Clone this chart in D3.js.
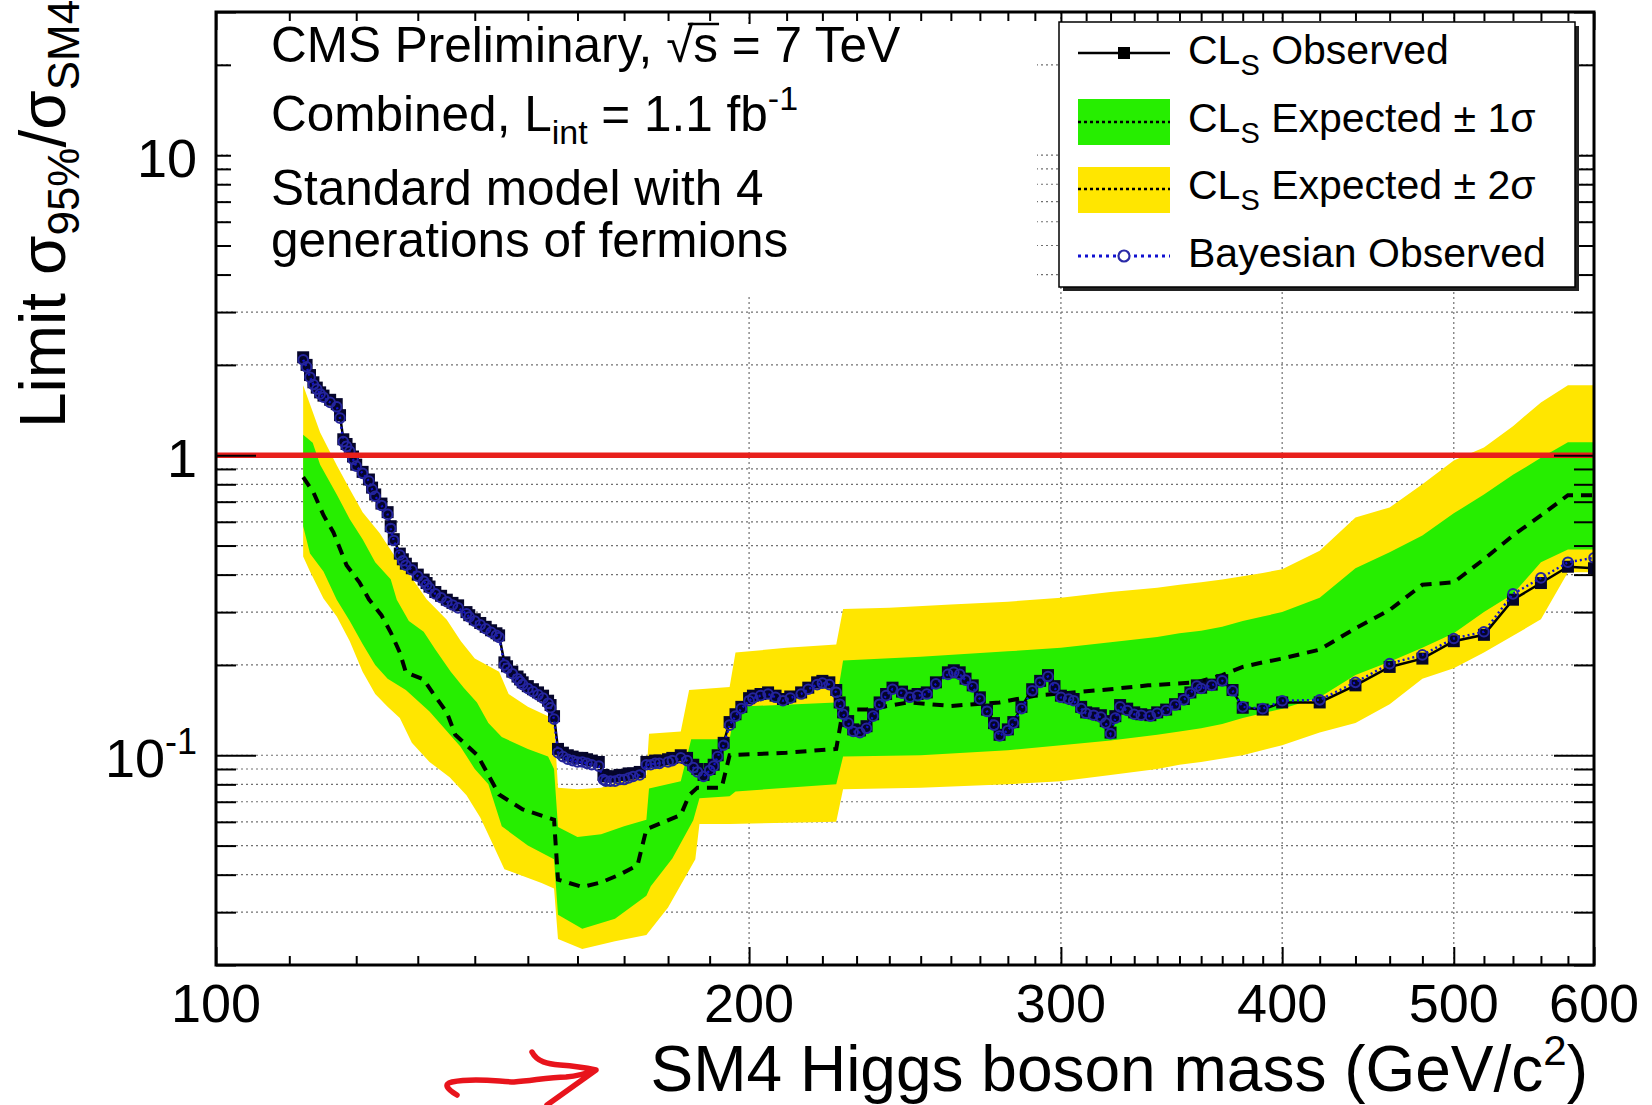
<!DOCTYPE html>
<html>
<head>
<meta charset="utf-8">
<script src="https://cdn.jsdelivr.net/npm/d3@7"></script>
<style>
  html, body { margin: 0; padding: 0; background: #fff; }
  svg { display: block; font-family: "Liberation Sans", Arial, Helvetica, sans-serif; }
</style>
</head>
<body>
<svg id="chart" width="1652" height="1105"></svg>
<script>
// ---- Limits on sigma/sigma_SM4 vs Higgs mass, [mass (GeV), ratio] ----
const clsObserved = [
  [112,2.12],[112.5,2.0],[113,1.85],[113.5,1.75],[114,1.68],[114.5,1.62],[115,1.58],[116,1.53],
  [117,1.48],[117.5,1.36],[118,1.13],[118.5,1.09],[119,1.05],[119.5,0.99],[120,0.93],[121,0.88],
  [122,0.83],[122.5,0.78],[123,0.74],[124,0.69],[125,0.646],[125.5,0.58],[126,0.525],[127,0.47],
  [127.5,0.45],[128,0.435],[129,0.42],[130,0.40],[131,0.385],[131.5,0.375],[132,0.365],[133,0.35],
  [134,0.34],[135,0.33],[136,0.322],[137,0.316],[138.5,0.30],[139,0.293],[140,0.284],[141,0.276],
  [142,0.268],[143,0.261],[144,0.255],[144.5,0.251],[145.5,0.204],[146,0.198],[147,0.19],[148,0.183],
  [148.5,0.179],[149,0.175],[150,0.17],[151,0.166],[152,0.162],[153,0.158],[154,0.152],[154.5,0.147],
  [155.2,0.135],[156,0.105],[157,0.102],[158,0.100],[159,0.099],[160,0.098],[161,0.098],[162,0.097],
  [163,0.096],[164.5,0.095],[165.5,0.086],[166,0.085],[167,0.085],[168,0.085],[169,0.086],[170,0.086],
  [171,0.087],[172,0.087],[173.5,0.088],[175,0.095],[176,0.095],[177,0.096],[178,0.096],[180,0.097],
  [181,0.098],[183,0.100],[184.5,0.098],[186,0.093],[187,0.090],[188.5,0.086],[190,0.090],[191,0.093],
  [192,0.100],[193.5,0.110],[195,0.129],[196.5,0.137],[198,0.145],[200,0.155],[201,0.158],[203,0.160],
  [205,0.162],[207,0.158],[209,0.154],[211,0.157],[214,0.162],[216,0.168],[218.5,0.175],[220,0.177],
  [222,0.175],[224,0.165],[225,0.150],[226,0.139],[227.5,0.130],[229,0.122],[231,0.121],[233,0.125],
  [235,0.137],[237,0.150],[239,0.160],[241,0.168],[244,0.163],[246.5,0.158],[249,0.160],[252,0.162],
  [255,0.175],[259,0.189],[261,0.192],[263,0.189],[265,0.180],[267.5,0.171],[270,0.156],[272.5,0.142],
  [275,0.128],[277,0.117],[280,0.122],[282,0.129],[285,0.145],[289,0.166],[292,0.177],[295,0.185],
  [297.5,0.170],[300,0.158],[303,0.156],[305,0.154],[308,0.145],[310,0.139],[313,0.138],[316,0.136],
  [318,0.130],[320,0.119],[322,0.135],[324,0.147],[327,0.143],[330,0.139],[333,0.137],[337,0.136],
  [340,0.139],[344,0.142],[348,0.148],[352,0.154],[355,0.162],[358,0.171],[360,0.168],[365,0.172],
  [370,0.178],[375,0.165],[380,0.144],[390,0.142],[400,0.150],[420,0.150],[440,0.171],[460,0.197],
  [480,0.210],[500,0.240],[520,0.252],[540,0.330],[560,0.375],[580,0.425],[600,0.420]
];

const bayesObserved = [
  [112,2.08],[112.5,1.97],[113,1.82],[113.5,1.72],[114,1.66],[114.5,1.60],[115,1.56],[116,1.50],
  [117,1.45],[117.5,1.33],[118,1.11],[118.5,1.07],[119,1.03],[119.5,0.97],[120,0.92],[121,0.87],
  [122,0.82],[122.5,0.77],[123,0.73],[124,0.68],[125,0.635],[125.5,0.57],[126,0.52],[127,0.465],
  [127.5,0.445],[128,0.43],[129,0.415],[130,0.395],[131,0.38],[131.5,0.37],[132,0.36],[133,0.345],
  [134,0.335],[135,0.325],[136,0.317],[137,0.31],[138.5,0.296],[139,0.289],[140,0.28],[141,0.272],
  [142,0.264],[143,0.257],[144,0.251],[144.5,0.247],[145.5,0.200],[146,0.195],[147,0.187],[148,0.18],
  [148.5,0.176],[149,0.172],[150,0.167],[151,0.163],[152,0.159],[153,0.155],[154,0.149],[154.5,0.144],
  [155.2,0.132],[156,0.102],[157,0.099],[158,0.097],[159,0.096],[160,0.095],[161,0.095],[162,0.094],
  [163,0.093],[164.5,0.092],[165.5,0.083],[166,0.082],[167,0.082],[168,0.082],[169,0.083],[170,0.083],
  [171,0.084],[172,0.085],[173.5,0.086],[175,0.093],[176,0.093],[177,0.094],[178,0.094],[180,0.095],
  [181,0.096],[183,0.098],[184.5,0.096],[186,0.091],[187,0.088],[188.5,0.085],[190,0.089],[191,0.092],
  [192,0.099],[193.5,0.108],[195,0.126],[196.5,0.135],[198,0.143],[200,0.152],[201,0.155],[203,0.158],
  [205,0.160],[207,0.156],[209,0.152],[211,0.155],[214,0.160],[216,0.166],[218.5,0.172],[220,0.174],
  [222,0.172],[224,0.162],[225,0.148],[226,0.137],[227.5,0.128],[229,0.120],[231,0.119],[233,0.123],
  [235,0.135],[237,0.148],[239,0.158],[241,0.166],[244,0.161],[246.5,0.156],[249,0.158],[252,0.160],
  [255,0.173],[259,0.186],[261,0.189],[263,0.186],[265,0.178],[267.5,0.169],[270,0.154],[272.5,0.140],
  [275,0.126],[277,0.116],[280,0.121],[282,0.128],[285,0.143],[289,0.164],[292,0.175],[295,0.183],
  [297.5,0.168],[300,0.156],[303,0.154],[305,0.152],[308,0.143],[310,0.138],[313,0.136],[316,0.134],
  [318,0.128],[320,0.118],[322,0.133],[324,0.145],[327,0.141],[330,0.137],[333,0.136],[337,0.135],
  [340,0.138],[344,0.141],[348,0.147],[352,0.153],[355,0.161],[358,0.170],[360,0.167],[365,0.171],
  [370,0.177],[375,0.164],[380,0.145],[390,0.143],[400,0.152],[420,0.153],[440,0.175],[460,0.202],
  [480,0.216],[500,0.245],[520,0.258],[540,0.345],[560,0.390],[580,0.440],[600,0.455]
];

const expectedMedian = [
  [112,0.845],[113.5,0.753],[115,0.631],[116.5,0.553],[118.5,0.43],[120.5,0.377],[122,0.331],[124,0.293],
  [125.5,0.257],[127,0.22],[128,0.189],[131,0.179],[132.5,0.162],[135,0.139],[136.5,0.117],[140.5,0.100],
  [144.5,0.074],[149,0.066],[155.2,0.061],[156,0.0385],[161,0.0364],[165,0.0377],[169,0.040],[173,0.043],
  [175,0.0567],[183,0.0632],[185,0.0736],[187,0.078],[193,0.078],[195,0.100],[210,0.102],[224,0.105],
  [226,0.142],[233,0.142],[246,0.150],[260,0.146],[268,0.148],[277,0.150],[290,0.158],[305,0.162],
  [320,0.166],[336,0.171],[358,0.175],[370,0.185],[380,0.197],[390,0.204],[400,0.210],[420,0.225],
  [440,0.265],[460,0.305],[480,0.370],[500,0.377],[520,0.45],[540,0.54],[560,0.63],[580,0.736],[600,0.736]
];

const band2Upper = [
  [112,1.71],[114.5,1.19],[117,0.926],[119,0.77],[121,0.646],[123.7,0.55],[126.5,0.45],[129,0.39],
  [131.5,0.331],[135,0.283],[137.5,0.24],[140,0.21],[144.5,0.19],[146.3,0.16],[150,0.145],[154,0.135],
  [155.2,0.13],[156,0.078],[160,0.077],[165,0.078],[170,0.083],[175,0.086],[175.6,0.118],[183,0.120],
  [185,0.165],[195,0.169],[196.5,0.22],[210,0.228],[224,0.234],[226,0.307],[240,0.31],[260,0.318],
  [280,0.325],[300,0.335],[320,0.35],[340,0.362],[350,0.37],[360,0.377],[370,0.385],[380,0.395],
  [390,0.405],[400,0.417],[420,0.48],[440,0.62],[460,0.67],[480,0.80],[500,0.96],[520,1.06],
  [540,1.25],[560,1.5],[580,1.71],[600,1.71]
];

const band1Upper = [
  [112,1.17],[113.4,1.1],[114.5,0.93],[117,0.74],[119,0.612],[121,0.525],[123,0.44],[125.5,0.386],
  [126.5,0.33],[128.5,0.28],[131,0.258],[133,0.225],[135.7,0.19],[138,0.168],[140.4,0.15],[142.5,0.128],
  [145,0.115],[150,0.105],[154,0.099],[155.2,0.09],[156,0.0577],[160,0.0534],[165,0.0545],[170,0.058],
  [175,0.061],[175.6,0.0775],[183,0.082],[185.5,0.113],[195,0.113],[196.5,0.145],[224,0.150],[226,0.207],
  [250,0.213],[280,0.222],[300,0.228],[320,0.238],[340,0.248],[350,0.255],[360,0.26],[370,0.268],
  [380,0.28],[390,0.29],[400,0.30],[420,0.335],[440,0.42],[460,0.475],[480,0.54],[500,0.64],
  [520,0.74],[540,0.86],[560,0.98],[580,1.105],[600,1.105]
];

const band1Lower = [
  [112,0.58],[113,0.47],[115,0.41],[117,0.33],[119,0.28],[121,0.235],[123,0.2],[125,0.18],
  [128,0.165],[132,0.14],[137.4,0.107],[140,0.09],[142.5,0.08],[145,0.058],[150,0.05],[155.2,0.045],
  [156,0.0294],[161,0.0264],[168,0.0285],[175,0.034],[176,0.0366],[181,0.0453],[186,0.0607],[187.5,0.0719],
  [195,0.073],[196.5,0.0758],[224,0.080],[226,0.099],[250,0.100],[280,0.104],[300,0.108],[320,0.112],
  [340,0.117],[350,0.12],[360,0.123],[370,0.127],[380,0.133],[390,0.138],[400,0.143],[420,0.156],
  [440,0.185],[460,0.205],[480,0.228],[500,0.255],[520,0.30],[540,0.345],[560,0.44],[580,0.485],[600,0.485]
];

const band2Lower = [
  [112,0.46],[113,0.41],[115,0.333],[117,0.29],[119,0.24],[121,0.19],[123,0.16],[125,0.145],
  [127,0.133],[129,0.11],[132,0.095],[135.5,0.0844],[138.5,0.0736],[141,0.062],[143,0.052],[145.5,0.0417],
  [152.7,0.0375],[155.2,0.036],[156,0.0244],[161,0.0226],[168,0.024],[175,0.0252],[180,0.0311],[186.5,0.045],
  [187.5,0.059],[195,0.059],[224,0.060],[226,0.077],[250,0.078],[280,0.080],[300,0.082],[320,0.086],
  [340,0.090],[350,0.093],[360,0.095],[380,0.100],[400,0.108],[420,0.119],[440,0.128],[460,0.148],
  [480,0.18],[500,0.195],[520,0.22],[540,0.25],[560,0.284],[580,0.407],[600,0.407]
];

const smReference = 1;

// axis tick values and labels
const xLabelValues = [100, 200, 300, 400, 500, 600];
const xLabelText   = ["100", "200", "300", "400", "500", "600"];
const xGridValues  = [200, 300, 400, 500];
const yMajorValues = [0.1, 1, 10];
const yLabels      = [{v: 0.1, base: "10", sup: "-1"}, {v: 1, base: "1", sup: ""}, {v: 10, base: "10", sup: ""}];

// ---- layout ----
const svg = d3.select("#chart");
const frame = {left: 216, right: 1594, top: 12, bottom: 965};

const x = d3.scaleLog().domain([100, 600]).range([frame.left, frame.right]);
const y = d3.scaleLog().domain([0.02, 30]).range([frame.bottom, frame.top]);

// minor tick positions in the ROOT style (10 GeV steps, then 20 GeV above 400)
const xMinorValues = d3.range(110, 400, 10).filter(v => v % 100 !== 0)
  .concat(d3.range(420, 600, 20).filter(v => v % 100 !== 0));
const yMinorValues = [];
[0.01, 0.1, 1, 10].forEach(dec => {
  for (let k = 2; k <= 9; k++) {
    const v = +(k * dec).toPrecision(3);
    if (v >= 0.02 && v <= 30) yMinorValues.push(v);
  }
});

svg.append("rect").attr("width", 1652).attr("height", 1105).attr("fill", "#fff");

svg.append("defs").append("clipPath").attr("id", "plotClip")
  .append("rect")
  .attr("x", frame.left).attr("y", frame.top)
  .attr("width", frame.right - frame.left).attr("height", frame.bottom - frame.top);

// ---- grid ----
const grid = svg.append("g").attr("stroke", "#707070").attr("stroke-width", 1.2)
  .attr("stroke-dasharray", "2,3");
grid.selectAll("line.h").data(yMajorValues.concat(yMinorValues)).join("line")
  .attr("x1", frame.left).attr("x2", frame.right)
  .attr("y1", d => y(d)).attr("y2", d => y(d));
grid.selectAll("line.v").data(xGridValues).join("line")
  .attr("y1", frame.top).attr("y2", frame.bottom)
  .attr("x1", d => x(d)).attr("x2", d => x(d));

// ---- bands ----
const plot = svg.append("g").attr("clip-path", "url(#plotClip)");
const lineGen = d3.line().x(d => x(d[0])).y(d => y(d[1]));

function band(upper, lower, color) {
  const pts = upper.concat(lower.slice().reverse());
  plot.append("path").attr("d", lineGen(pts) + "Z").attr("fill", color).attr("stroke", "none");
}
band(band2Upper, band2Lower, "#ffe600");
band(band1Upper, band1Lower, "#26ee00");

// expected median
plot.append("path").attr("d", lineGen(expectedMedian))
  .attr("fill", "none").attr("stroke", "#000").attr("stroke-width", 4)
  .attr("stroke-dasharray", "11,8");

// CLs observed: line + filled squares
plot.append("path").attr("d", lineGen(clsObserved))
  .attr("fill", "none").attr("stroke", "#000").attr("stroke-width", 2.5);
plot.append("g").selectAll("rect").data(clsObserved).join("rect")
  .attr("x", d => x(d[0]) - 6).attr("y", d => y(d[1]) - 6)
  .attr("width", 12).attr("height", 12).attr("fill", "#05052a");

// Bayesian observed: dotted blue line + open circles
plot.append("path").attr("d", lineGen(bayesObserved))
  .attr("fill", "none").attr("stroke", "#1010d0").attr("stroke-width", 2.4)
  .attr("stroke-dasharray", "2,3");
plot.append("g").selectAll("circle").data(bayesObserved).join("circle")
  .attr("cx", d => x(d[0])).attr("cy", d => y(d[1])).attr("r", 4.8)
  .attr("fill", "none").attr("stroke", "#24249c").attr("stroke-width", 2);

// SM4 reference at 1
svg.append("line")
  .attr("x1", frame.left).attr("x2", frame.right)
  .attr("y1", y(smReference)).attr("y2", y(smReference))
  .attr("stroke", "#e8201c").attr("stroke-width", 5.5);

// ---- tick marks (inward on all four sides) ----
function ticks(axis, values, size, transform) {
  const g = svg.append("g").attr("transform", transform)
    .call(axis.tickValues(values).tickSize(size).tickFormat(""));
  g.select(".domain").remove();
  g.selectAll("line").attr("stroke", "#000").attr("stroke-width", 2);
}
ticks(d3.axisBottom(x), xMinorValues, -9, `translate(0,${frame.bottom})`);
ticks(d3.axisBottom(x), xLabelValues, -18, `translate(0,${frame.bottom})`);
ticks(d3.axisTop(x), xMinorValues, -9, `translate(0,${frame.top})`);
ticks(d3.axisTop(x), xLabelValues, -18, `translate(0,${frame.top})`);
ticks(d3.axisLeft(y), yMinorValues, -20, `translate(${frame.left},0)`);
ticks(d3.axisLeft(y), yMajorValues, -40, `translate(${frame.left},0)`);
ticks(d3.axisRight(y), yMinorValues, -20, `translate(${frame.right},0)`);
ticks(d3.axisRight(y), yMajorValues, -40, `translate(${frame.right},0)`);

// ---- text panel (white box) ----
svg.append("rect").attr("x", 231).attr("y", 24).attr("width", 806).attr("height", 270)
  .attr("fill", "#fff");

const infoFs = 49.5;
const info = svg.append("g").attr("font-size", infoFs).attr("fill", "#000");
const base1 = 62;
const l1 = info.append("text").attr("x", 271).attr("y", base1).text("CMS Preliminary, \u221As = 7 TeV");
{
  const s = l1.text();
  const idx = s.indexOf("\u221A") + 1;
  const node = l1.node();
  const ext = node.getExtentOfChar(idx);
  const rad = node.getExtentOfChar(idx - 1);
  info.append("line")
    .attr("x1", rad.x + rad.width * 0.8).attr("x2", ext.x + ext.width + 1)
    .attr("y1", base1 - 38).attr("y2", base1 - 38)
    .attr("stroke", "#000").attr("stroke-width", 2.5);
}
const l2 = info.append("text").attr("x", 271).attr("y", 131);
l2.append("tspan").text("Combined, L");
l2.append("tspan").attr("font-size", 34).attr("dy", 13).text("int");
l2.append("tspan").attr("dy", -13).text(" = 1.1 fb");
l2.append("tspan").attr("font-size", 34).attr("dy", -21).text("-1");
info.append("text").attr("x", 271).attr("y", 205).text("Standard model with 4");
info.append("text").attr("x", 271).attr("y", 257).text("generations of fermions");

// ---- legend ----
const lg = {x: 1059, y: 22, w: 516, h: 265};
svg.append("rect").attr("x", lg.x + 4).attr("y", lg.y + 4).attr("width", lg.w).attr("height", lg.h)
  .attr("fill", "#222");
svg.append("rect").attr("x", lg.x).attr("y", lg.y).attr("width", lg.w).attr("height", lg.h)
  .attr("fill", "#fff").attr("stroke", "#000").attr("stroke-width", 1.5);

const symX0 = 1078, symX1 = 1170, symXc = 1124, textX = 1188, legFs = 41;
const legend = svg.append("g");

// entry: CLs observed
legend.append("line").attr("x1", symX0).attr("x2", symX1).attr("y1", 53).attr("y2", 53)
  .attr("stroke", "#000").attr("stroke-width", 2.5);
legend.append("rect").attr("x", symXc - 6).attr("y", 47).attr("width", 12).attr("height", 12).attr("fill", "#000");
// entry: expected +-1 sigma
legend.append("rect").attr("x", symX0).attr("y", 99).attr("width", symX1 - symX0).attr("height", 46).attr("fill", "#26ee00");
legend.append("line").attr("x1", symX0).attr("x2", symX1).attr("y1", 122).attr("y2", 122)
  .attr("stroke", "#000").attr("stroke-width", 2.5).attr("stroke-dasharray", "3,3");
// entry: expected +-2 sigma
legend.append("rect").attr("x", symX0).attr("y", 167).attr("width", symX1 - symX0).attr("height", 46).attr("fill", "#ffe600");
legend.append("line").attr("x1", symX0).attr("x2", symX1).attr("y1", 189).attr("y2", 189)
  .attr("stroke", "#000").attr("stroke-width", 2.5).attr("stroke-dasharray", "3,3");
// entry: Bayesian observed
legend.append("line").attr("x1", symX0).attr("x2", symX1).attr("y1", 256).attr("y2", 256)
  .attr("stroke", "#1010d0").attr("stroke-width", 3).attr("stroke-dasharray", "3,4");
legend.append("circle").attr("cx", symXc).attr("cy", 256).attr("r", 5.5)
  .attr("fill", "#fff").attr("stroke", "#2a2aa8").attr("stroke-width", 2.2);

function clsLabel(yBase, rest) {
  const t = legend.append("text").attr("x", textX).attr("y", yBase).attr("font-size", legFs);
  t.append("tspan").text("CL");
  t.append("tspan").attr("font-size", 29).attr("dy", 11).text("S");
  t.append("tspan").attr("dy", -11).text(rest);
}
clsLabel(64, " Observed");
clsLabel(132, " Expected \u00B1 1\u03C3");
clsLabel(199, " Expected \u00B1 2\u03C3");
legend.append("text").attr("x", textX).attr("y", 267).attr("font-size", legFs).text("Bayesian Observed");

// ---- frame ----
svg.append("rect").attr("x", frame.left).attr("y", frame.top)
  .attr("width", frame.right - frame.left).attr("height", frame.bottom - frame.top)
  .attr("fill", "none").attr("stroke", "#000").attr("stroke-width", 3);

// ---- tick labels ----
const labFs = 54;
svg.append("g").attr("font-size", labFs).attr("text-anchor", "middle")
  .selectAll("text").data(xLabelValues).join("text")
  .attr("x", d => x(d)).attr("y", 1022)
  .text((d, i) => xLabelText[i]);

const yl = svg.append("g").attr("font-size", labFs).attr("text-anchor", "end");
yLabels.forEach(l => {
  const t = yl.append("text").attr("x", 197).attr("y", y(l.v) + 22);
  t.append("tspan").text(l.base);
  if (l.sup) t.append("tspan").attr("font-size", 36).attr("dy", -23).text(l.sup);
});

// ---- axis titles ----
const xt = svg.append("text").attr("x", 1588).attr("y", 1091).attr("font-size", 64)
  .attr("text-anchor", "end");
xt.append("tspan").text("SM4 Higgs boson mass (GeV/c");
xt.append("tspan").attr("font-size", 42).attr("dy", -26).text("2");
xt.append("tspan").attr("dy", 26).text(")");

const yt = svg.append("text").attr("transform", "translate(65,428) rotate(-90)")
  .attr("font-size", 64);
yt.append("tspan").text("Limit \u03C3");
yt.append("tspan").attr("font-size", 44).attr("dy", 14).text("95%");
yt.append("tspan").attr("dy", -14).text("/\u03C3");
yt.append("tspan").attr("font-size", 44).attr("dy", 14).text("SM4");

// ---- hand-drawn pointer toward the axis title ----
svg.append("path")
  .attr("d", "M457,1095 C447,1089 443,1084 452,1082 C476,1077 500,1082 514,1082 C532,1081 548,1077 566,1077 C578,1076 588,1073 596,1070 " +
             "M532,1052 C537,1062 548,1064 560,1065 C575,1066 587,1068 596,1070 L547,1105")
  .attr("fill", "none").attr("stroke", "#e8141c").attr("stroke-width", 5.5)
  .attr("stroke-linecap", "round").attr("stroke-linejoin", "round");
</script>
</body>
</html>
